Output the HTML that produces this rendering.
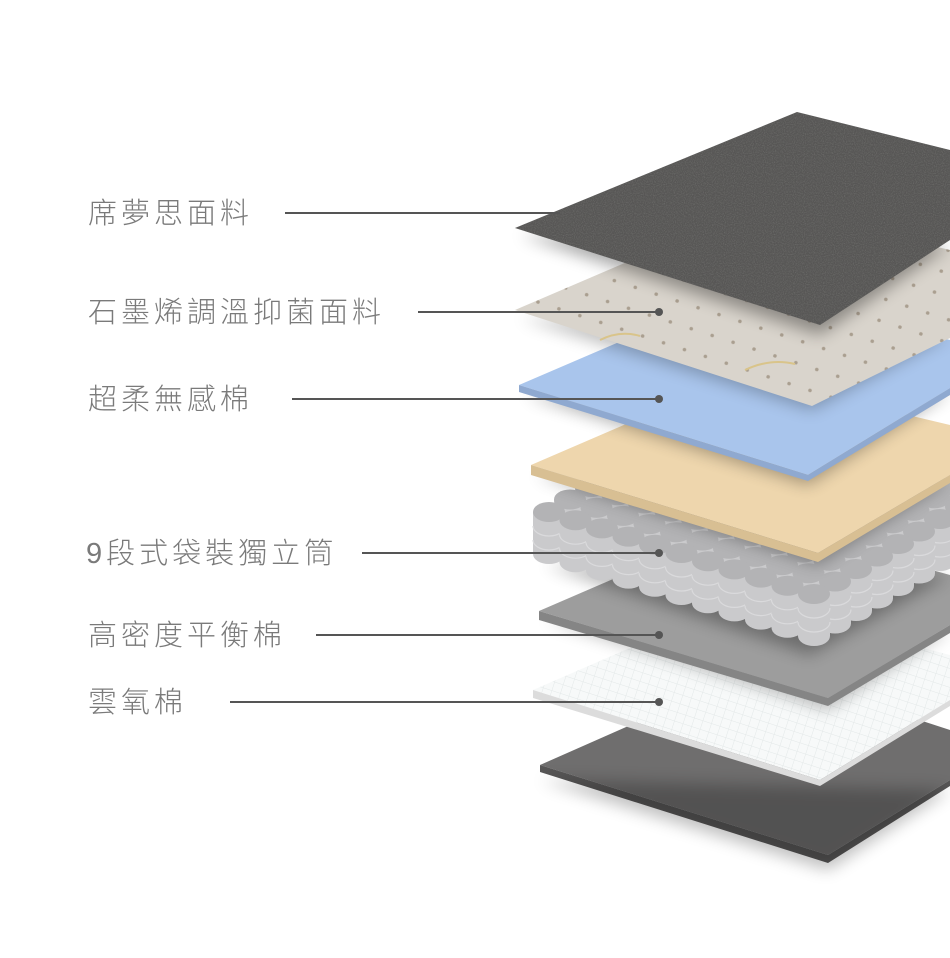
<!DOCTYPE html>
<html><head><meta charset="utf-8"><style>
html,body{margin:0;padding:0;background:#fff;width:950px;height:958px;overflow:hidden}
svg{display:block}
text{font-family:"Liberation Sans","Noto Sans CJK TC",sans-serif;font-size:29px;fill:#7a7a7a;font-weight:300;letter-spacing:4px}
</style></head><body>
<svg width="950" height="958" viewBox="0 0 950 958" xmlns="http://www.w3.org/2000/svg">
<defs>
<filter id="sh" x="-20%" y="-20%" width="140%" height="160%"><feGaussianBlur stdDeviation="8"/></filter>
<filter id="tex" x="0" y="0" width="100%" height="100%">
<feTurbulence type="fractalNoise" baseFrequency="0.9" numOctaves="2" seed="3" result="n"/>
<feColorMatrix in="n" type="matrix" values="0 0 0 0 0.2  0 0 0 0 0.2  0 0 0 0 0.19  0 0 0 -2 1.2" result="d"/>
<feComposite in="d" in2="SourceGraphic" operator="in"/>
</filter>
<pattern id="dots" width="22" height="22" patternUnits="userSpaceOnUse" patternTransform="rotate(18)">
<rect width="22" height="22" fill="#d9d4cc"/><circle cx="11" cy="11" r="1.8" fill="#aa9f90"/></pattern>
<pattern id="grid" width="9" height="9" patternUnits="userSpaceOnUse" patternTransform="rotate(18)">
<rect width="9" height="9" fill="#f7f9f9"/><path d="M0 0H9M0 0V9" stroke="#e3e8e8" stroke-width="1"/></pattern>
</defs>

<polygon points="540,765 760,668 950,730 950,780 828,855 540,765" fill="#6f6e6e"/>
<polygon points="540,765 828,855 950,780 950,786 828,863 540,772" fill="#575656"/>

<polygon points="540,780 828,870 950,790" fill="#000" opacity=".25" filter="url(#sh)"/>
<polygon points="533,690 740,600 950,655 950,700 820,780 533,690" fill="url(#grid)"/>
<polygon points="533,690 820,780 950,700 950,706 820,786 533,698" fill="#dcdcdc"/>

<polygon points="545,620 828,710 950,630" fill="#000" opacity=".25" filter="url(#sh)"/>
<polygon points="539,611 750,520 950,575 950,625 828,698 539,611" fill="#9d9d9d"/>
<polygon points="539,611 828,698 950,625 950,633 828,706 539,620" fill="#858585"/>

<polygon points="545,565 810,655 950,575" fill="#000" opacity=".3" filter="url(#sh)"/>
<g id="springs"></g>

<polygon points="535,475 818,565 950,480" fill="#000" opacity=".3" filter="url(#sh)"/>
<polygon points="531,465 740,375 950,425 950,475 818,553 531,465" fill="#eed6ad"/>
<polygon points="531,465 818,553 950,475 950,483 818,562 531,475" fill="#d8bf93"/>

<polygon points="525,395 808,485 950,392" fill="#000" opacity=".3" filter="url(#sh)"/>
<polygon points="519,385 740,290 950,340 950,388 808,475 519,385" fill="#a9c5ec"/>
<polygon points="519,385 808,475 950,388 950,395 808,481 519,392" fill="#8fa9d0"/>

<polygon points="520,318 812,410 950,335" fill="#000" opacity=".25" filter="url(#sh)"/>
<polygon points="515,310 760,205 950,250 950,338 812,406 515,310" fill="url(#dots)"/>
<path d="M600,340 q20,-10 40,-4 M745,370 q25,-12 50,-6 M880,245 q20,-8 40,-2" stroke="#d9c48a" stroke-width="2" fill="none"/>

<polygon points="520,235 820,335 950,245" fill="#000" opacity=".35" filter="url(#sh)"/>
<polygon points="515,228 797,112 950,150 950,240 820,325 515,228" fill="#575655"/>
<polygon points="515,228 797,112 950,150 950,240 820,325 515,228" fill="#fff" filter="url(#tex)" opacity=".6"/>

<g stroke="#555" stroke-width="2">
<line x1="285" y1="213" x2="560" y2="213"/>
<line x1="418" y1="312" x2="659" y2="312"/>
<line x1="292" y1="399" x2="659" y2="399"/>
<line x1="362" y1="553" x2="659" y2="553"/>
<line x1="316" y1="635" x2="659" y2="635"/>
<line x1="230" y1="702" x2="659" y2="702"/>
</g>
<g fill="#555">
<circle cx="659" cy="312" r="4"/><circle cx="659" cy="399" r="4"/><circle cx="659" cy="553" r="4"/>
<circle cx="659" cy="635" r="4"/><circle cx="659" cy="702" r="4"/>
</g>

<text x="88" y="223">席夢思面料</text>
<text x="88" y="322">石墨烯調溫抑菌面料</text>
<text x="88" y="409">超柔無感棉</text>
<text x="86" y="563">9段式袋裝獨立筒</text>
<text x="88" y="645">高密度平衡棉</text>
<text x="88" y="712">雲氧棉</text>
</svg>
<script>
(function(){
var g=document.getElementById('springs'),items=[];
for(var j=0;j<10;j++)for(var i=0;i<11;i++){
 var x=549+i*26.5+j*21, y=512+i*8.2-j*12.5;
 if(x>975)continue;
 items.push([x,y]);
}
items.sort(function(a,b){return a[1]-b[1]});
var s='';
items.forEach(function(p){
 var x=p[0],y=p[1],h=42,r=16;
 s+='<rect x="'+(x-r)+'" y="'+y+'" width="'+(2*r)+'" height="'+h+'" fill="#cacacc"/>';
 s+='<ellipse cx="'+x+'" cy="'+(y+h)+'" rx="'+r+'" ry="10" fill="#cacacc"/>';
 s+='<path d="M'+(x-r)+' '+(y+14)+' a'+r+' 10 0 0 0 '+(2*r)+' 0 M'+(x-r)+' '+(y+28)+' a'+r+' 10 0 0 0 '+(2*r)+' 0" stroke="#dadadc" stroke-width="1.2" fill="none"/>';
 s+='<ellipse cx="'+x+'" cy="'+y+'" rx="'+r+'" ry="10" fill="#b3b3b5"/>';
});
g.innerHTML=s;
})();
</script>
</body></html>
